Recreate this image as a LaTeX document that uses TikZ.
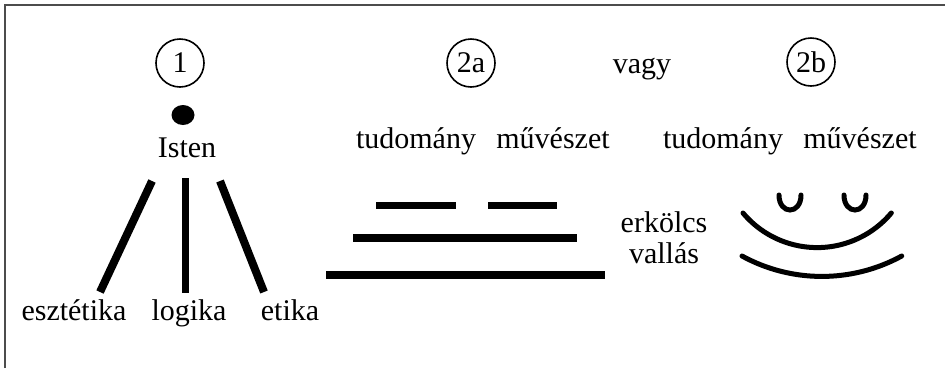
\documentclass[tikz,border=0pt]{standalone}
\usepackage{fontspec}
\setmainfont{Liberation Serif}
\begin{document}
\begin{tikzpicture}[x=1pt,y=-1pt,
  lbl/.style={anchor=base,inner sep=0pt,font=\fontsize{30}{34}\selectfont},
  num/.style={circle,draw,line width=1.6pt,minimum size=48pt,inner sep=0pt,font=\fontsize{30}{34}\selectfont},
  bar/.style={line width=8pt,line cap=butt},
  stem/.style={line width=8pt,line cap=butt},
  arcline/.style={line width=5pt,line cap=round}]
\useasboundingbox (0,0) rectangle (945,368);
\fill[white] (0,0) rectangle (945,368);
% frame (left and top only)
\draw[line width=2pt,black!70] (4.5,368) -- (4.5,5) -- (945,5);

% ---- diagram 1 ----
\node[num] (c1) at (180,63) {1};
\fill (183,115) ellipse [x radius=11.5, y radius=10];
\node[lbl] (isten) at (187,157) {Isten};
\coordinate (l1a) at (152,181); \coordinate (l1b) at (100,292);
\coordinate (l2a) at (185,178); \coordinate (l2b) at (185,293);
\coordinate (l3a) at (220,181); \coordinate (l3b) at (264,292);
\draw[stem] (l1a) -- (l1b);
\draw[stem,line width=7pt] (l2a) -- (l2b);
\draw[stem] (l3a) -- (l3b);
\node[lbl] (esz) at (74,320) {esztétika};
\node[lbl] (log) at (189,320) {logika};
\node[lbl] (eti) at (290,320) {etika};

% ---- diagram 2a ----
\node[num] (c2a) at (471,63) {2a};
\node[lbl] (tud1) at (416,148) {tudomány};
\node[lbl] (muv1) at (553,148) {művészet};
\coordinate (b1a) at (376,205); \coordinate (b1b) at (456,205);
\coordinate (b2a) at (488,205); \coordinate (b2b) at (557,205);
\coordinate (b3a) at (353,238); \coordinate (b3b) at (577,238);
\coordinate (b4a) at (326,275); \coordinate (b4b) at (605,275);
\draw[bar,line width=7pt] (b1a) -- (b1b);
\draw[bar,line width=7pt] (b2a) -- (b2b);
\draw[bar] (b3a) -- (b3b);
\draw[bar] (b4a) -- (b4b);

% ---- middle ----
\node[lbl] (vagy) at (642,73) {vagy};
\node[lbl] (erk) at (664,232) {erkölcs};
\node[lbl] (val) at (664,263) {vallás};

% ---- diagram 2b ----
\node[num] (c2b) at (811,62) {2b};
\node[lbl] (tud2) at (723,148) {tudomány};
\node[lbl] (muv2) at (860,148) {művészet};
\coordinate (e1a) at (779,195); \coordinate (e1b) at (801,195);
\coordinate (e2a) at (844,195); \coordinate (e2b) at (866,195);
\draw[arcline] (e1a) .. controls (779,215) and (801,215) .. (e1b);
\draw[arcline] (e2a) .. controls (844,215) and (866,215) .. (e2b);
\coordinate (u1) at (743,213);
\coordinate (w1) at (742,256);
\draw[arcline] (u1) arc[start angle=140, end angle=40, radius=96.8];
\draw[arcline] (w1) arc[start angle=118.7, end angle=61.3, radius=166.3];
\end{tikzpicture}
\end{document}
